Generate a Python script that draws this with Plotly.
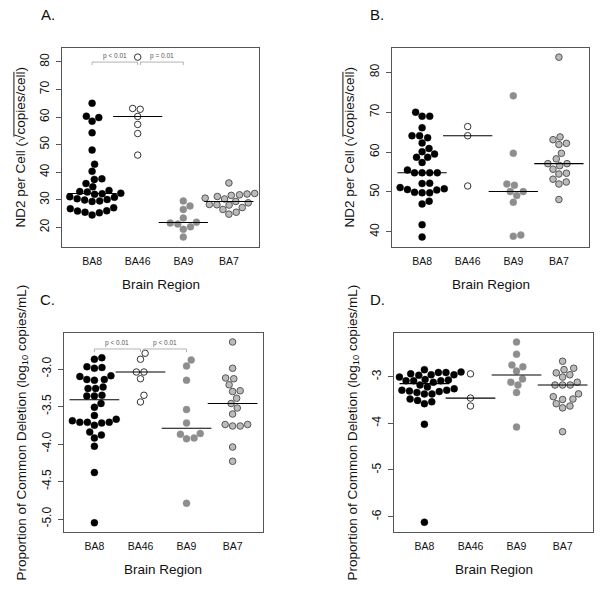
import numpy as np
import plotly.graph_objects as go

# ---------------- data ----------------
categories = ["BA8", "BA46", "BA9", "BA7"]

# Panel A: ND2 per cell
a_ba8 = [65.0, 60.3, 59.8, 58.5, 54.3, 48.0, 42.9, 40.3, 37.6, 37.4, 35.9, 34.7,
         33.4, 33.0, 32.8, 32.4, 32.2, 32.0, 31.1, 30.9, 30.4, 30.1, 29.9, 29.6,
         29.4, 27.1, 26.8, 26.0, 25.9, 25.5, 25.3, 24.5]
a_ba46 = [81.7, 63.1, 62.8, 60.2, 57.3, 54.0, 46.2]
a_ba9 = [29.6, 27.8, 26.5, 23.4, 21.9, 21.6, 21.2, 20.2, 19.3, 16.5]
a_ba7 = [36.1, 32.3, 32.1, 31.8, 31.6, 31.2, 30.6, 30.3, 29.4, 28.9, 28.3, 28.2,
         28.1, 27.2, 26.5, 25.5, 24.8]

# Panel B: ND2 per cell
b_ba8 = [70.0, 69.0, 69.0, 66.1, 64.1, 64.1, 63.6, 62.3, 60.9, 60.1, 59.5, 58.7,
         58.7, 57.4, 55.5, 54.8, 54.8, 54.8, 54.8, 52.1, 52.2, 50.8, 50.5, 49.8,
         49.8, 49.9, 50.6, 51.1, 47.7, 47.0, 41.8, 38.7]
b_ba46 = [66.4, 64.1, 51.5]
b_ba9 = [74.1, 59.7, 52.0, 51.7, 50.1, 50.1, 49.1, 47.4, 38.9, 39.2]
b_ba7 = [83.8, 63.8, 63.1, 62.2, 61.9, 59.7, 58.3, 57.1, 57.1, 56.6, 55.7, 54.5,
         54.7, 53.2, 52.0, 52.5, 48.1]

# Panel C: proportion of common deletion (log10)
c_ba8 = [-2.85, -2.87, -2.97, -2.98, -2.99, -3.09, -3.10, -3.14, -3.14, -3.15,
         -3.24, -3.26, -3.26, -3.35, -3.36, -3.36, -3.46, -3.51, -3.62, -3.67,
         -3.69, -3.71, -3.71, -3.71, -3.72, -3.75, -3.84, -3.88, -3.92, -4.03,
         -4.38, -5.05]
c_ba46 = [-2.79, -2.87, -3.04, -3.04, -3.13, -3.35, -3.44]
c_ba9 = [-2.88, -2.96, -3.15, -3.54, -3.72, -3.86, -3.87, -3.92, -3.93, -4.79]
c_ba7 = [-2.64, -2.99, -3.12, -3.13, -3.21, -3.29, -3.30, -3.39, -3.46, -3.52,
         -3.60, -3.74, -3.74, -3.76, -3.76, -4.04, -4.23]

# Panel D: proportion of common deletion (log10)
d_ba8 = [-2.85, -2.94, -2.97, -2.91, -2.96, -2.90, -2.91, -2.96, -2.95, -3.01,
         -3.07, -3.12, -3.09, -3.06, -3.18, -3.09, -3.09, -3.22,
         -3.29, -3.31, -3.34, -3.37, -3.37, -3.32, -3.29, -3.26,
         -3.48, -3.51, -3.58, -3.54, -4.02, -6.12]
d_ba46 = [-2.94, -3.46, -3.63]
d_ba9 = [-2.26, -2.52, -2.75, -2.79, -2.88, -3.12, -3.05, -3.18, -3.34, -4.08]
d_ba7 = [-2.67, -2.82, -2.85, -2.92, -2.96, -3.01, -3.18, -3.18, -3.18, -3.12,
         -3.43, -3.49, -3.48, -3.37, -3.58, -3.67, -3.63, -4.18]

# tick labels
yticks_a = [20, 30, 40, 50, 60, 70, 80]
yticks_b = [40, 50, 60, 70, 80]
yticks_c = [-5.0, -4.5, -4.0, -3.5, -3.0]
yticklabels_c = ["-5.0", "-4.5", "-4.0", "-3.5", "-3.0"]
yticks_d = [-6, -5, -4, -3]
yticklabels_d = ["-6", "-5", "-4", "-3"]

# significance comparisons (category index pairs)
comparisons_a = [(0, 1, "p < 0.01"), (1, 2, "p = 0.01")]
comparisons_c = [(0, 1, "p < 0.01"), (1, 2, "p < 0.01")]

# ---------------- styling / layout ----------------
FONT = "Liberation Sans, Arial, Helvetica, sans-serif"
W, H = 602, 591
SWARM_D = 7.6        # swarm spacing in px
HALF = 0.54          # half width of median line (category units)
XR = (0.34, 4.66)
TITLE_SIZE = 13.5

group_style = {
    "BA8": dict(color="#000000", size=7, line=dict(color="#000000", width=0.4)),
    "BA46": dict(color="#ffffff", size=6.5, line=dict(color="#333333", width=1)),
    "BA9": dict(color="#8e8e8e", size=7, line=dict(color="#8e8e8e", width=0.4)),
    "BA7": dict(color="#bbbbbb", size=6.6, line=dict(color="#555555", width=1)),
}

# ND2 title pieces (the radicand gets an overline drawn as a shape)
nd2_pre, nd2_rad, nd2_body, nd2_post = "ND2 per Cell (", "√", "copies/cell", ")"
# Arial / Liberation Sans advance widths (em/1000) for the overline placement
ADV = {"N": 722, "D": 722, "2": 556, " ": 278, "p": 556, "e": 556, "r": 333,
       "C": 722, "l": 222, "(": 333, ")": 333, "√": 549, "c": 500, "o": 556,
       "i": 222, "s": 500, "/": 278}


def text_w(s, size):
    return sum(ADV.get(ch, 556) for ch in s) / 1000.0 * size


ytitle_nd2 = nd2_pre + nd2_rad + nd2_body + nd2_post
ytitle_cd = "Proportion of Common Deletion (log<sub>10</sub> copies/mL)"

panels = [
    dict(label="A.", data=[a_ba8, a_ba46, a_ba9, a_ba7], box=(62, 48, 259, 247),
         yr=(12.9, 85.0), yt=yticks_a, ytt=[str(v) for v in yticks_a],
         ytitle=ytitle_nd2, over=True, lab=(48, 15), ytx=20, comps=comparisons_a, by=79.9),
    dict(label="B.", data=[b_ba8, b_ba46, b_ba9, b_ba7], box=(392, 48, 589, 247),
         yr=(36.2, 86.1), yt=yticks_b, ytt=[str(v) for v in yticks_b],
         ytitle=ytitle_nd2, over=True, lab=(377, 15), ytx=349, comps=[], by=None),
    dict(label="C.", data=[c_ba8, c_ba46, c_ba9, c_ba7], box=(64, 333, 263, 532),
         yr=(-5.173, -2.52), yt=yticks_c, ytt=yticklabels_c,
         ytitle=ytitle_cd, over=False, lab=(47, 299), ytx=22, comps=comparisons_c, by=-2.733),
    dict(label="D.", data=[d_ba8, d_ba46, d_ba9, d_ba7], box=(394, 333, 593, 532),
         yr=(-6.33, -2.065), yt=yticks_d, ytt=yticklabels_d,
         ytitle=ytitle_cd, over=False, lab=(377, 299), ytx=353, comps=[], by=None),
]


def swarm(vals, ppu, d):
    """R beeswarm 'swarm' method (ascending priority); returns px offsets."""
    y = np.asarray(vals, dtype=float) * ppu / d
    order = np.argsort(y, kind="stable")
    xs = np.zeros(len(y))
    placed = []
    for idx in order:
        yi = y[idx]
        pre = [j for j in placed if abs(yi - y[j]) < 1]
        if pre:
            offs = [np.sqrt(1 - (yi - y[j]) ** 2) for j in pre]
            cands = [0.0] + [xs[j] + o for j, o in zip(pre, offs)] + \
                    [xs[j] - o for j, o in zip(pre, offs)]
            good = [c for c in cands
                    if all((c - xs[j]) ** 2 + (yi - y[j]) ** 2 >= 0.999 for j in pre)]
            xs[idx] = min(good, key=abs)
        placed.append(idx)
    return xs * d


fig = go.Figure()
annotations = []
shapes = []

for k, p in enumerate(panels):
    ax = "" if k == 0 else str(k + 1)
    x0, y0, x1, y1 = p["box"]
    wpx, hpx = x1 - x0, y1 - y0
    ppu = hpx / (p["yr"][1] - p["yr"][0])
    ppc = wpx / (XR[1] - XR[0])

    for gi, (cat, vals) in enumerate(zip(categories, p["data"])):
        offs = swarm(vals, ppu, SWARM_D) / ppc
        st = group_style[cat]
        fig.add_trace(go.Scatter(
            x=(gi + 1) + offs, y=vals, mode="markers", cliponaxis=False,
            marker=dict(color=st["color"], size=st["size"], line=st["line"]),
            xaxis="x" + ax, yaxis="y" + ax, showlegend=False, hoverinfo="y"))
    # median lines
    for gi, vals in enumerate(p["data"]):
        m = float(np.median(vals))
        fig.add_trace(go.Scatter(
            x=[gi + 1 - HALF, gi + 1 + HALF], y=[m, m], mode="lines",
            line=dict(color="#000000", width=1.1),
            xaxis="x" + ax, yaxis="y" + ax, showlegend=False, hoverinfo="skip"))
    # significance brackets
    tick = 3.0 / ppu
    for ci, (i, j, txt) in enumerate(p["comps"]):
        xa = i + 1 + (0.06 if ci > 0 else 0.0)
        xb = j + 1
        yb = p["by"]
        fig.add_trace(go.Scatter(
            x=[xa, xa, xb, xb], y=[yb - tick, yb, yb, yb - tick], mode="lines",
            line=dict(color="#ababab", width=0.9),
            xaxis="x" + ax, yaxis="y" + ax, showlegend=False, hoverinfo="skip"))
        annotations.append(dict(
            x=(xa + xb) / 2, y=yb, xref="x" + ax, yref="y" + ax, text=txt,
            showarrow=False, yanchor="bottom", yshift=0,
            font=dict(size=6.5, color="#555555", family=FONT)))

    dom_x = [x0 / W, x1 / W]
    dom_y = [1 - y1 / H, 1 - y0 / H]
    fig.layout["xaxis" + ax] = dict(
        domain=dom_x, range=list(XR), anchor="y" + ax,
        tickvals=[1, 2, 3, 4], ticktext=categories, ticks="",
        ticklabelstandoff=4,
        showline=True, mirror=True, linecolor="#555555", linewidth=1,
        showgrid=False, zeroline=False,
        tickfont=dict(size=10.5, family=FONT, color="#111111"))
    fig.layout["yaxis" + ax] = dict(
        domain=dom_y, range=list(p["yr"]), anchor="x" + ax,
        tickvals=p["yt"], ticktext=p["ytt"], ticks="outside", ticklen=5,
        tickcolor="#555555", tickangle=-90, ticklabelstandoff=2,
        showline=True, mirror=True, linecolor="#555555", linewidth=1,
        showgrid=False, zeroline=False,
        tickfont=dict(size=12, family=FONT, color="#111111"))

    # panel label
    annotations.append(dict(x=p["lab"][0] / W, y=1 - p["lab"][1] / H, xref="paper",
                            yref="paper", text=p["label"], showarrow=False,
                            xanchor="center", yanchor="middle",
                            font=dict(size=15, family=FONT, color="#111111")))
    # y title
    yc = (y0 + y1) / 2
    annotations.append(dict(x=p["ytx"] / W, y=1 - yc / H, xref="paper",
                            yref="paper", text=p["ytitle"], showarrow=False,
                            textangle=-90, xanchor="center", yanchor="middle",
                            font=dict(size=TITLE_SIZE, family=FONT, color="#111111")))
    if p["over"]:
        total = text_w(ytitle_nd2, TITLE_SIZE)
        bottom = yc + total / 2
        ya = bottom - text_w(nd2_pre, TITLE_SIZE) - 0.75 * text_w(nd2_rad, TITLE_SIZE)
        yb2 = bottom - text_w(nd2_pre + nd2_rad + nd2_body, TITLE_SIZE)
        xo = p["ytx"] - 0.45 * TITLE_SIZE
        shapes.append(dict(type="line", xref="paper", yref="paper",
                           x0=xo / W, x1=xo / W, y0=1 - ya / H, y1=1 - yb2 / H,
                           line=dict(color="#111111", width=1)))
    # x title
    annotations.append(dict(x=((x0 + x1) / 2) / W, y=1 - (y1 + 37) / H, xref="paper",
                            yref="paper", text="Brain Region", showarrow=False,
                            xanchor="center", yanchor="middle",
                            font=dict(size=TITLE_SIZE, family=FONT, color="#111111")))

fig.update_layout(
    width=W, height=H, margin=dict(l=0, r=0, t=0, b=0),
    paper_bgcolor="white", plot_bgcolor="white",
    annotations=annotations, shapes=shapes, showlegend=False,
    hovermode=False,
    font=dict(family=FONT, color="#111111"))

fig.write_html("out.html", config={"displayModeBar": False, "staticPlot": True},
               post_script="document.body.style.margin='0px';document.body.style.padding='0px';")
